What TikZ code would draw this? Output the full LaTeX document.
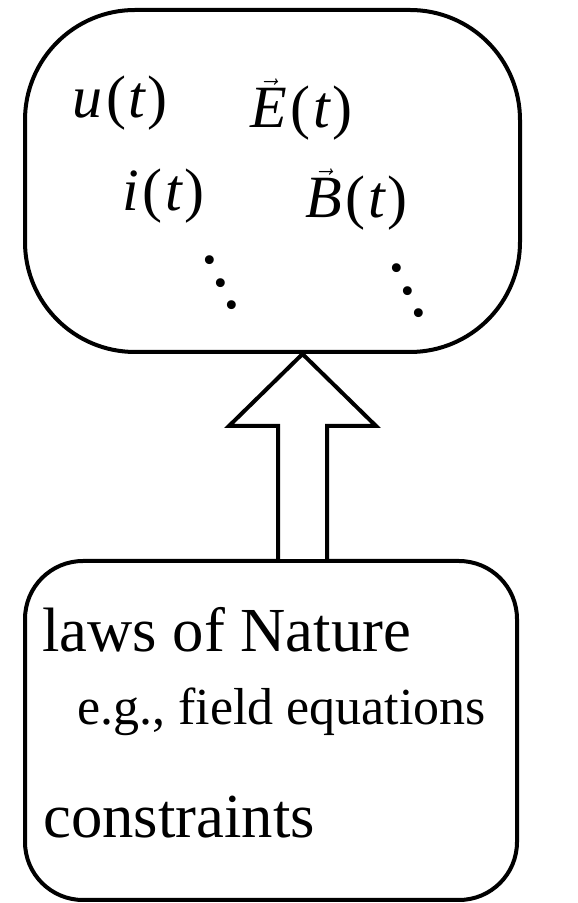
\documentclass[tikz,border=0pt]{standalone}
\usepackage{fontspec}
\setmainfont{Liberation Serif}
\usepackage{tikz}
\usetikzlibrary{calc}
\tikzset{
  bigbox/.style={
    rectangle,
    draw=black,
    line width=3pt,
    fill=white,
    inner sep=0pt
  },
  symlabel/.style={
    anchor=base west,
    inner sep=0pt,
    font=\fontsize{45}{45}\selectfont
  },
  lawlabel/.style={
    anchor=base west,
    inner sep=0pt,
    font=\fontsize{47}{47}\selectfont
  },
  eglabel/.style={
    anchor=base west,
    inner sep=0pt,
    font=\fontsize{39}{39}\selectfont
  },
  hollowarrow/.style={draw=black, line width=3pt, fill=white, line join=miter}
}
\newcommand{\fnof}[1]{{\itshape #1}\kern3pt(\kern2pt{\itshape t}\kern1.5pt)}
\newcommand{\vecfnof}[1]{$\vec{\mbox{\itshape #1}}$\kern3pt(\kern2pt{\itshape t}\kern1.5pt)}
\newcommand{\diagdots}{\fontsize{56}{56}\selectfont\smash{\raisebox{33.8pt}{.}}\kern-6.1pt\smash{\raisebox{16.9pt}{.}}\kern-6.1pt.}

\begin{document}
\begin{tikzpicture}[x=0.75pt, y=0.75pt]
\useasboundingbox (0,0) rectangle (578,903);
% quantities
\node[bigbox, minimum width=371.25pt, minimum height=256.5pt, rounded corners=82.5pt] (fields) at (272.5,722) {};
\node[symlabel] (u) at (72,785) {\fnof{u}};
\node[symlabel] (E) at (250,775) {\vecfnof{E}};
\node[symlabel] (i) at (122,692) {\fnof{i}};
\node[symlabel] (B) at (305,685) {\vecfnof{B}};
\node[symlabel] (dotsl) at (200.7,594.3) {\diagdots};
\node[symlabel] (dotsr) at (387.7,586.3) {\diagdots};
% laws
\node[bigbox, minimum width=369pt, minimum height=254.25pt, rounded corners=43.5pt] (laws) at (271,172.5) {};
\node[lawlabel] (nature) at (42,251) {laws of Nature};
\node[eglabel] (eg) at (77,178) {e.g., field equations};
\node[lawlabel] (constr) at (43,65) {constraints};
% block arrow
\coordinate (tail) at ($(laws.north)+(31.5,0)$);
\coordinate (tip) at (tail |- fields.south);
\draw[hollowarrow] ($(tail)+(-24.5,0)$) -- ($(tip)+(-24.5,-72)$) -- ($(tip)+(-73.5,-72)$)
  -- (tip) -- ($(tip)+(73.5,-72)$) -- ($(tip)+(24.5,-72)$) -- ($(tail)+(24.5,0)$);
\end{tikzpicture}
\end{document}
